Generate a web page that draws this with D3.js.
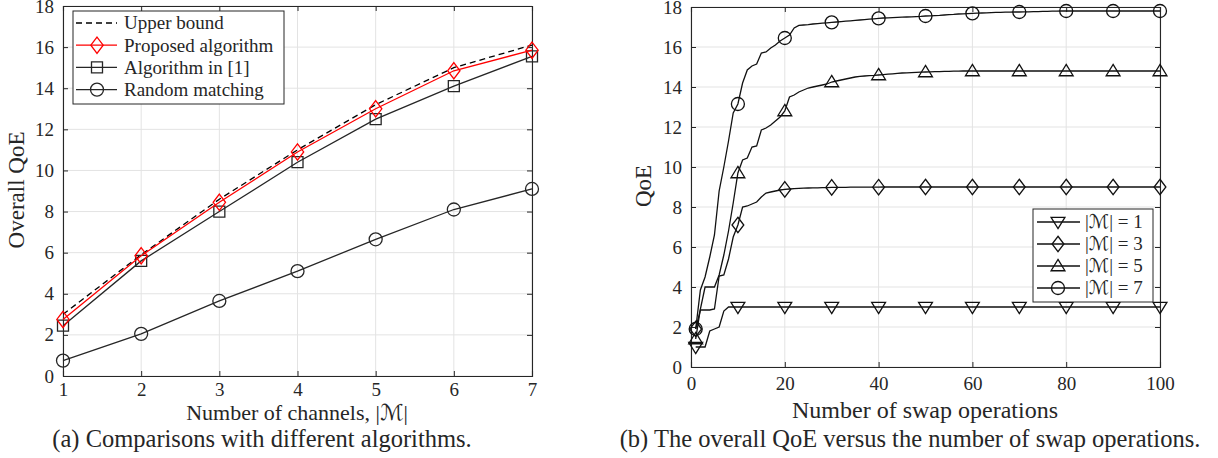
<!DOCTYPE html>
<html><head><meta charset="utf-8">
<script src="https://cdn.jsdelivr.net/npm/d3@7"></script>
<style>
body{margin:0;background:#fff}
svg{display:block}
text{font-family:"Liberation Serif","Times New Roman",serif;fill:#262626}
.cal{font-family:"DejaVu Serif","DejaVu Sans",serif;font-style:italic}
</style>
</head><body>
<svg id="c" width="1218" height="458"></svg>
<script>
// ---------- data: panel (a) ----------
const channels = [1, 2, 3, 4, 5, 6, 7];
const upperBound = [3.0, 5.9, 8.6, 11.0, 13.2, 15.0, 16.1];
const proposed = [2.75, 5.85, 8.45, 10.9, 13.0, 14.85, 15.85];
const algoIn1 = [2.45, 5.6, 8.0, 10.4, 12.5, 14.1, 15.55];
const randomMatching = [0.75, 2.05, 3.65, 5.1, 6.65, 8.1, 9.1];
const qoeTicks = [0, 2, 4, 6, 8, 10, 12, 14, 16, 18];
const channelTicks = [1, 2, 3, 4, 5, 6, 7];
const legendA = ["Upper bound", "Proposed algorithm", "Algorithm in [1]", "Random matching"];

// ---------- data: panel (b), QoE after swap operation 1..100 ----------
const m1 = [1.0,1.0,1.0,1.8,1.9,2.0,2.8,3.0,3.0,3.0,
  3.0,3.0,3.0,3.0,3.0,3.0,3.0,3.0,3.0,3.0,
  3.0,3.0,3.0,3.0,3.0,3.0,3.0,3.0,3.0,3.0,
  3.0,3.0,3.0,3.0,3.0,3.0,3.0,3.0,3.0,3.0,
  3.0,3.0,3.0,3.0,3.0,3.0,3.0,3.0,3.0,3.0,
  3.0,3.0,3.0,3.0,3.0,3.0,3.0,3.0,3.0,3.0,
  3.0,3.0,3.0,3.0,3.0,3.0,3.0,3.0,3.0,3.0,
  3.0,3.0,3.0,3.0,3.0,3.0,3.0,3.0,3.0,3.0,
  3.0,3.0,3.0,3.0,3.0,3.0,3.0,3.0,3.0,3.0,
  3.0,3.0,3.0,3.0,3.0,3.0,3.0,3.0,3.0,3.0];
const m3 = [1.9,2.85,2.85,2.85,2.9,4.55,4.6,5.4,6.5,7.1,
  8.0,8.05,8.15,8.25,8.5,8.7,8.75,8.8,8.85,8.88,
  8.9,8.92,8.93,8.94,8.95,8.96,8.96,8.97,8.97,8.98,
  8.98,8.98,8.98,8.99,8.99,8.99,8.99,8.99,8.99,8.99,
  9.0,9.0,9.0,9.0,9.0,9.0,9.0,9.0,9.0,9.0,
  9.0,9.0,9.0,9.0,9.0,9.0,9.0,9.0,9.0,9.0,
  9.0,9.0,9.0,9.0,9.0,9.0,9.0,9.0,9.0,9.0,
  9.0,9.0,9.0,9.0,9.0,9.0,9.0,9.0,9.0,9.0,
  9.0,9.0,9.0,9.0,9.0,9.0,9.0,9.0,9.0,9.0,
  9.0,9.0,9.0,9.0,9.0,9.0,9.0,9.0,9.0,9.0];
const m5 = [1.4,2.9,4.0,4.0,4.0,4.6,5.6,6.8,8.2,9.7,
  10.35,10.45,11.0,11.05,11.85,11.95,12.1,12.3,12.5,12.8,
  13.5,13.6,13.75,13.85,13.95,14.0,14.05,14.1,14.15,14.25,
  14.3,14.35,14.4,14.45,14.5,14.53,14.55,14.57,14.58,14.6,
  14.62,14.64,14.66,14.68,14.7,14.71,14.72,14.73,14.74,14.75,
  14.76,14.77,14.77,14.78,14.78,14.79,14.79,14.8,14.8,14.8,
  14.8,14.8,14.8,14.8,14.8,14.8,14.8,14.8,14.8,14.8,
  14.8,14.8,14.8,14.8,14.8,14.8,14.8,14.8,14.8,14.8,
  14.8,14.8,14.8,14.8,14.8,14.8,14.8,14.8,14.8,14.8,
  14.8,14.8,14.8,14.8,14.8,14.8,14.8,14.8,14.8,14.8];
const m7 = [1.9,3.85,4.5,5.5,6.6,8.8,10.0,11.3,12.7,13.15,
  14.2,14.85,15.05,15.15,15.7,15.75,15.95,16.1,16.3,16.45,
  16.6,16.95,17.08,17.1,17.12,17.15,17.17,17.19,17.21,17.23,
  17.25,17.27,17.29,17.31,17.33,17.35,17.37,17.39,17.41,17.43,
  17.45,17.46,17.47,17.48,17.49,17.5,17.51,17.52,17.53,17.55,
  17.56,17.57,17.58,17.6,17.62,17.63,17.65,17.66,17.67,17.68,
  17.69,17.7,17.71,17.72,17.73,17.73,17.74,17.74,17.75,17.75,
  17.76,17.76,17.77,17.77,17.78,17.78,17.79,17.79,17.8,17.8,
  17.8,17.8,17.8,17.8,17.8,17.8,17.8,17.8,17.8,17.8,
  17.8,17.8,17.8,17.8,17.8,17.8,17.8,17.8,17.8,17.8];
const markerSteps = [1, 10, 20, 30, 40, 50, 60, 70, 80, 90, 100];
const swapTicks = [0, 20, 40, 60, 80, 100];
const legendBValues = [1, 3, 5, 7];

// ---------- helpers ----------
const svg = d3.select("#c");
const AX = "#262626", GRID = "#e3e3e3";

function markerPath(type, s) {
  const p = d3.path();
  if (type === "circle") { p.moveTo(s, 0); p.arc(0, 0, s, 0, 2 * Math.PI); }
  else if (type === "square") { p.rect(-s, -s, 2 * s, 2 * s); }
  else if (type === "diamond") { p.moveTo(0, -s * 1.25); p.lineTo(s * 0.95, 0); p.lineTo(0, s * 1.25); p.lineTo(-s * 0.95, 0); p.closePath(); }
  else if (type === "up") { p.moveTo(0, -s * 1.05); p.lineTo(s * 1.1, s * 0.75); p.lineTo(-s * 1.1, s * 0.75); p.closePath(); }
  else if (type === "down") { p.moveTo(0, s * 1.05); p.lineTo(s * 1.1, -s * 0.75); p.lineTo(-s * 1.1, -s * 0.75); p.closePath(); }
  return p.toString();
}

function frame(g, x, y, xt, yt, padX) {
  const [x0, x1] = x.range(), [y0, y1] = y.range();
  g.append("g").selectAll("line").data(xt).join("line")
    .attr("x1", d => x(d)).attr("x2", d => x(d)).attr("y1", y0).attr("y2", y1)
    .attr("stroke", GRID).attr("stroke-width", 1);
  g.append("g").selectAll("line").data(yt).join("line")
    .attr("y1", d => y(d)).attr("y2", d => y(d)).attr("x1", x0).attr("x2", x1)
    .attr("stroke", GRID).attr("stroke-width", 1);
  const ax = g.append("g").attr("class", "axes");
  ax.append("g").attr("transform", `translate(0,${y0})`)
    .call(d3.axisBottom(x).tickValues(xt).tickSize(-5).tickPadding(padX).tickFormat(d3.format("d")));
  ax.append("g").attr("transform", `translate(0,${y1})`)
    .call(d3.axisTop(x).tickValues(xt).tickSize(-5).tickFormat(""));
  ax.append("g").attr("transform", `translate(${x0},0)`)
    .call(d3.axisLeft(y).tickValues(yt).tickSize(-5).tickPadding(9).tickFormat(d3.format("d")));
  ax.append("g").attr("transform", `translate(${x1},0)`)
    .call(d3.axisRight(y).tickValues(yt).tickSize(-5).tickFormat(""));
  ax.selectAll(".domain").attr("stroke", AX).attr("stroke-width", 1.1);
  ax.selectAll(".tick line").attr("stroke", AX).attr("stroke-width", 1);
  ax.selectAll(".tick text").attr("font-size", 19).attr("fill", AX)
    .style("font-family", '"Liberation Serif",serif');
}

function mLabel(sel, prefix, suffix) {
  if (prefix) sel.append("tspan").text(prefix);
  sel.append("tspan").text("|");
  sel.append("tspan").attr("class", "cal").text("\u2133");
  sel.append("tspan").text("|" + suffix);
}

// ---------- panel (a) ----------
{
  const x = d3.scaleLinear().domain([1, 7]).range([63, 532]);
  const y = d3.scaleLinear().domain([0, 18]).range([376, 6]);
  const g = svg.append("g");
  frame(g, x, y, channelTicks, qoeTicks, 7);

  const series = [
    { vals: upperBound, color: "#000", dash: "6,4", marker: null, size: 0 },
    { vals: algoIn1, color: AX, dash: null, marker: "square", size: 5.5 },
    { vals: randomMatching, color: AX, dash: null, marker: "circle", size: 6.5 },
    { vals: proposed, color: "#ff0000", dash: null, marker: "diamond", size: 6.5 }
  ];
  const line = d3.line().x((d, i) => x(channels[i])).y(d => y(d));
  series.forEach(s => {
    g.append("path").attr("d", line(s.vals)).attr("fill", "none")
      .attr("stroke", s.color).attr("stroke-width", 1.3)
      .attr("stroke-dasharray", s.dash);
    if (s.marker) {
      g.append("g").selectAll("path").data(s.vals).join("path")
        .attr("transform", (d, i) => `translate(${x(channels[i])},${y(d)})`)
        .attr("d", markerPath(s.marker, s.size))
        .attr("fill", "none").attr("stroke", s.color).attr("stroke-width", 1.3);
    }
  });

  const lg = g.append("g");
  lg.append("rect").attr("x", 73).attr("y", 11).attr("width", 211).attr("height", 93)
    .attr("fill", "#fff").attr("stroke", AX).attr("stroke-width", 1);
  const legStyle = [
    { color: "#000", dash: "6,4", marker: null, size: 0 },
    { color: "#ff0000", dash: null, marker: "diamond", size: 6.5 },
    { color: AX, dash: null, marker: "square", size: 5.5 },
    { color: AX, dash: null, marker: "circle", size: 6.5 }
  ];
  legendA.forEach((t, i) => {
    const yy = 23 + i * 22.2;
    const st = legStyle[i];
    lg.append("line").attr("x1", 76).attr("x2", 117).attr("y1", yy).attr("y2", yy)
      .attr("stroke", st.color).attr("stroke-width", 1.3).attr("stroke-dasharray", st.dash);
    if (st.marker) lg.append("path").attr("transform", `translate(97,${yy})`)
      .attr("d", markerPath(st.marker, st.size)).attr("fill", "none")
      .attr("stroke", st.color).attr("stroke-width", 1.3);
    lg.append("text").attr("x", 124).attr("y", yy).attr("dy", "0.34em")
      .attr("font-size", 19).attr("fill", "#111").text(t);
  });

  svg.append("text").attr("transform", "translate(24,190) rotate(-90)")
    .attr("text-anchor", "middle").attr("font-size", 23).text("Overall QoE");
  svg.append("text").attr("x", 297).attr("y", 420).attr("text-anchor", "middle")
    .attr("font-size", 22).call(mLabel, "Number of channels, ", "");
  svg.append("text").attr("x", 262).attr("y", 447).attr("text-anchor", "middle")
    .attr("font-size", 24.5).attr("fill", "#000").text("(a) Comparisons with different algorithms.");
}

// ---------- panel (b) ----------
{
  const x = d3.scaleLinear().domain([0, 100]).range([691, 1160]);
  const y = d3.scaleLinear().domain([0, 18]).range([367, 7]);
  const g = svg.append("g");
  frame(g, x, y, swapTicks, qoeTicks, 10);

  const series = [
    { vals: m1, marker: "down" },
    { vals: m3, marker: "diamond" },
    { vals: m5, marker: "up" },
    { vals: m7, marker: "circle" }
  ];
  const sizes = { down: 6.3, diamond: 6.2, up: 6.3, circle: 6.5 };
  const line = d3.line().x((d, i) => x(i + 1)).y(d => y(d));
  series.forEach(s => {
    g.append("path").attr("d", line(s.vals)).attr("fill", "none")
      .attr("stroke", "#111").attr("stroke-width", 1.3);
  });
  series.forEach(s => {
    g.append("g").selectAll("path").data(markerSteps).join("path")
      .attr("transform", k => `translate(${x(k)},${y(s.vals[k - 1])})`)
      .attr("d", markerPath(s.marker, sizes[s.marker]))
      .attr("fill", "none").attr("stroke", "#111").attr("stroke-width", 1.3);
  });

  const lg = g.append("g");
  lg.append("rect").attr("x", 1033).attr("y", 209).attr("width", 120).attr("height", 93)
    .attr("fill", "#fff").attr("stroke", AX).attr("stroke-width", 1);
  legendBValues.forEach((v, i) => {
    const yy = 222 + i * 22;
    const mk = series[i].marker;
    lg.append("line").attr("x1", 1037).attr("x2", 1080).attr("y1", yy).attr("y2", yy)
      .attr("stroke", "#111").attr("stroke-width", 1.3);
    lg.append("path").attr("transform", `translate(1058,${yy})`)
      .attr("d", markerPath(mk, sizes[mk])).attr("fill", "none")
      .attr("stroke", "#111").attr("stroke-width", 1.3);
    lg.append("text").attr("x", 1085).attr("y", yy).attr("dy", "0.34em")
      .attr("font-size", 19).attr("fill", "#111").call(mLabel, "", " = " + v);
  });

  svg.append("text").attr("transform", "translate(651,186) rotate(-90)")
    .attr("text-anchor", "middle").attr("font-size", 23).text("QoE");
  svg.append("text").attr("x", 925).attr("y", 418).attr("text-anchor", "middle")
    .attr("font-size", 24).text("Number of swap operations");
  svg.append("text").attr("x", 910).attr("y", 447).attr("text-anchor", "middle")
    .attr("font-size", 24.5).attr("fill", "#000").text("(b) The overall QoE versus the number of swap operations.");
}
</script>
</body></html>
